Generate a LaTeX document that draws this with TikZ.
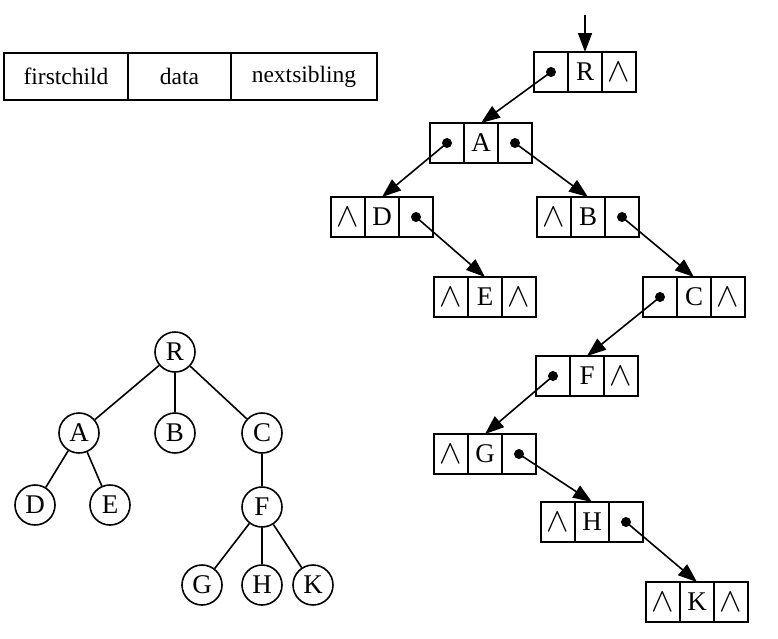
\documentclass[tikz,border=0pt]{standalone}
\usepackage{fontspec}
\setmainfont{Liberation Serif}
\usepackage{tikz}
\usetikzlibrary{positioning}
\usetikzlibrary{arrows.meta}
\newcommand{\nul}{\scalebox{1.35}{$\wedge$}}

\begin{document}
\begin{tikzpicture}[x=1pt,y=-1pt,line width=1.6pt,
    >={Triangle[length=19pt,width=14pt]},
    every node/.style={font=\fontsize{27}{30}\selectfont},
    field/.style={draw,minimum height=47pt,inner sep=0pt,outer sep=0pt,font=\fontsize{23.5}{27}\selectfont},
    cell/.style={draw,minimum width=34pt,minimum height=40pt,inner sep=0pt,outer sep=0pt},
    vert/.style={draw,circle,minimum size=40pt,inner sep=0pt}]
\useasboundingbox (0,0) rectangle (778,638);
% node layout
\node[field,minimum width=124pt] (fc) at (66,76.5) {firstchild};
\node[field,minimum width=103pt,right=0pt of fc] (dt) {data};
\node[field,minimum width=146pt,right=0pt of dt] (ns) {nextsibling};
% linked nodes
\node[cell] (cR) at (585,72) {R};
\node[cell,left=0pt of cR] (cRl) {}; \node[cell,right=0pt of cR] (cRr) {\nul};
\node[cell] (cA) at (481,143) {A};
\node[cell,left=0pt of cA] (cAl) {}; \node[cell,right=0pt of cA] (cAr) {};
\node[cell] (cD) at (382,217) {D};
\node[cell,left=0pt of cD] (cDl) {\nul}; \node[cell,right=0pt of cD] (cDr) {};
\node[cell] (cB) at (588,217) {B};
\node[cell,left=0pt of cB] (cBl) {\nul}; \node[cell,right=0pt of cB] (cBr) {};
\node[cell] (cE) at (485,297) {E};
\node[cell,left=0pt of cE] (cEl) {\nul}; \node[cell,right=0pt of cE] (cEr) {\nul};
\node[cell] (cC) at (694,297) {C};
\node[cell,left=0pt of cC] (cCl) {}; \node[cell,right=0pt of cC] (cCr) {\nul};
\node[cell] (cF) at (587,376) {F};
\node[cell,left=0pt of cF] (cFl) {}; \node[cell,right=0pt of cF] (cFr) {\nul};
\node[cell] (cG) at (485,454) {G};
\node[cell,left=0pt of cG] (cGl) {\nul}; \node[cell,right=0pt of cG] (cGr) {};
\node[cell] (cH) at (592,522) {H};
\node[cell,left=0pt of cH] (cHl) {\nul}; \node[cell,right=0pt of cH] (cHr) {};
\node[cell] (cK) at (697,602) {K};
\node[cell,left=0pt of cK] (cKl) {\nul}; \node[cell,right=0pt of cK] (cKr) {\nul};
\coordinate (top) at (585,15);
\draw[->] (top) -- (cR.north);
\fill (cRl) circle(5); \draw[->] (cRl.center) -- (cA.north);
\fill (cAl) circle(5); \draw[->] (cAl.center) -- (cD.north);
\fill (cAr) circle(5); \draw[->] (cAr.center) -- (cB.north);
\fill (cDr) circle(5); \draw[->] (cDr.center) -- (cE.north);
\fill (cBr) circle(5); \draw[->] (cBr.center) -- (cC.north);
\fill (cCl) circle(5); \draw[->] (cCl.center) -- (cF.north);
\fill (cFl) circle(5); \draw[->] (cFl.center) -- (cG.north);
\fill (cGr) circle(5); \draw[->] (cGr.center) -- (cH.north);
\fill (cHr) circle(5); \draw[->] (cHr.center) -- (cK.north);
% tree
\node[vert] (tR) at (175,352) {R};
\node[vert] (tA) at (79,433) {A};
\node[vert] (tB) at (175,433) {B};
\node[vert] (tC) at (262,433) {C};
\node[vert] (tD) at (35,505) {D};
\node[vert] (tE) at (110,505) {E};
\node[vert] (tF) at (262,507) {F};
\node[vert] (tG) at (202,585) {G};
\node[vert] (tH) at (262,585) {H};
\node[vert] (tK) at (313,585) {K};
\draw (tR)--(tA); \draw (tR)--(tB); \draw (tR)--(tC);
\draw (tA)--(tD); \draw (tA)--(tE);
\draw (tC)--(tF);
\draw (tF)--(tG); \draw (tF)--(tH); \draw (tF)--(tK);
\end{tikzpicture}
\end{document}
